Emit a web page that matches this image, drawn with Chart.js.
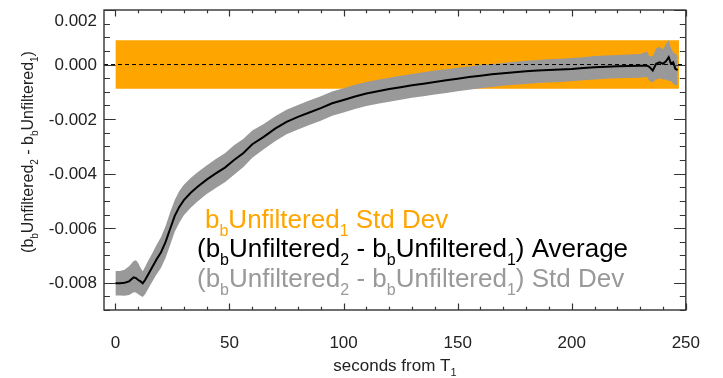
<!DOCTYPE html>
<html><head><meta charset="utf-8">
<script src="https://cdn.jsdelivr.net/npm/chart.js@4/dist/chart.umd.min.js"></script>
<style>html,body{margin:0;padding:0;background:#fff}canvas{display:block}</style>
</head><body>
<canvas id="c" width="723" height="378"></canvas>
<script>
// ---- data ----
const times = [0,2,4,6,8,9,10,11,12,13,14,16,18,20,22,24,26,28,30,33,36,40,44,48,52,56,60,
  65,70,75,80,85,90,95,100,105,110,115,120,125,130,135,140,145,150,155,160,165,170,175,180,185,190,195,200,205,210,215,220,225,230,
  233,234,235.5,237,238.5,240,241.3,242.5,243.5,244.5,245.4,246.4];
const avgDiff = [-0.00802,-0.00802,-0.00800,-0.00795,-0.00780,-0.00783,-0.00790,-0.00795,-0.00802,-0.00790,-0.00775,
  -0.00745,-0.00715,-0.00688,-0.00650,-0.00602,-0.00555,-0.00522,-0.00497,
  -0.00470,-0.00448,-0.00422,-0.00399,-0.00378,-0.00350,-0.00325,-0.00292,
  -0.00265,-0.00235,-0.00210,-0.00192,-0.00176,-0.00160,-0.00142,-0.00130,-0.00117,-0.00106,-0.00098,-0.00090,-0.00083,-0.00076,-0.00070,-0.00064,-0.00058,-0.00052,-0.00046,-0.00041,-0.00036,-0.00032,-0.00028,-0.00025,-0.00022,-0.00020,-0.00018,-0.00016,-0.00013,-0.00010,-0.00008,-0.00006,-0.00005,-0.00004,
  -0.00004,-0.00008,-0.00022,0.00003,0.00008,0.00003,0.00012,0.00027,0.00003,0.00008,-0.00016,-0.00020];
const stdUpper = [-0.00757,-0.00757,-0.00752,-0.00740,-0.00720,-0.00718,-0.00728,-0.00745,-0.00758,-0.00742,-0.00725,
  -0.00695,-0.00662,-0.00632,-0.00592,-0.00542,-0.00497,-0.00464,-0.00441,
  -0.00416,-0.00395,-0.00370,-0.00346,-0.00325,-0.00296,-0.00273,-0.00242,
  -0.00218,-0.00190,-0.00166,-0.00148,-0.00132,-0.00116,-0.00099,-0.00087,-0.00074,-0.00064,-0.00056,-0.00048,-0.00041,-0.00035,-0.00028,-0.00022,-0.00017,-0.00012,-0.00007,-0.00002,0.00002,0.00006,0.00010,0.00014,0.00017,0.00019,0.00021,0.00024,0.00027,0.00031,0.00033,0.00035,0.00037,0.00039,
  0.00048,0.00030,0.00030,0.00060,0.00065,0.00055,0.00075,0.00090,0.00060,0.00045,0.00040,0.00030];
const stdLower = [-0.00847,-0.00847,-0.00848,-0.00845,-0.00835,-0.00836,-0.00842,-0.00848,-0.00852,-0.00842,-0.00828,
  -0.00798,-0.00770,-0.00745,-0.00708,-0.00662,-0.00613,-0.00580,-0.00553,
  -0.00525,-0.00502,-0.00475,-0.00453,-0.00432,-0.00404,-0.00377,-0.00342,
  -0.00311,-0.00281,-0.00256,-0.00238,-0.00222,-0.00206,-0.00188,-0.00176,-0.00163,-0.00152,-0.00144,-0.00136,-0.00129,-0.00122,-0.00116,-0.00110,-0.00104,-0.00098,-0.00092,-0.00087,-0.00082,-0.00078,-0.00074,-0.00071,-0.00068,-0.00066,-0.00064,-0.00061,-0.00058,-0.00055,-0.00052,-0.00050,-0.00049,-0.00048,
  -0.00046,-0.00060,-0.00065,-0.00055,-0.00050,-0.00055,-0.00055,-0.00060,-0.00060,-0.00070,-0.00075,-0.00078];
const refStdTimes = [0, 247];
const refStd = 0.00089;
const xRange = [-5, 250];
const yRange = [-0.009, 0.002];
const xTicks = [0, 50, 100, 150, 200, 250];
const xTickLabels = ['0', '50', '100', '150', '200', '250'];
const yTicks = [-0.008, -0.006, -0.004, -0.002, 0, 0.002];
const yTickLabels = ['-0.008', '-0.006', '-0.004', '-0.002', '0.000', '0.002'];
const xMinorStep = 10, yMinorStep = 0.0005;

// ---- styling ----
const FONT = "'Liberation Sans', Arial, sans-serif";
const ORANGE = '#FFA500', GRAY = '#999999', INK = '#222222';
const pts = arr => times.map((t, i) => ({x: t, y: arr[i]}));
const NONE = 'rgba(0,0,0,0)';

function segWidth(ctx, segs, size) {
  let w = 0;
  for (const [t, sub] of segs) { ctx.font = (sub ? Math.round(size * 0.62) : size) + 'px ' + FONT; w += ctx.measureText(t).width; }
  return w;
}
function drawSegs(ctx, segs, x, y, size, color) {
  ctx.fillStyle = color; ctx.textAlign = 'left'; ctx.textBaseline = 'alphabetic';
  let cx = x;
  for (const [t, sub] of segs) {
    ctx.font = (sub ? Math.round(size * 0.62) : size) + 'px ' + FONT;
    ctx.fillText(t, cx, sub ? y + size * 0.3 : y);
    cx += ctx.measureText(t).width;
  }
}
const diffSegs = [['(b',0],['b',1],['Unfiltered',0],['2',1],[' - b',0],['b',1],['Unfiltered',0],['1',1],[')',0]];
const legendLines = [
  {segs: [['b',0],['b',1],['Unfiltered',0],['1',1],[' Std Dev',0]], color: ORANGE, x: 205, y: 228},
  {segs: diffSegs.concat([[' Average',0]]), color: '#000', x: 197, y: 257},
  {segs: diffSegs.concat([[' Std Dev',0]]), color: GRAY, x: 197, y: 287}
];

const framePlugin = {
  id: 'frame',
  afterDraw(chart) {
    const ctx = chart.ctx, a = chart.chartArea, xs = chart.scales.x, ys = chart.scales.y;
    ctx.save();
    ctx.strokeStyle = '#333'; ctx.lineWidth = 1.4;
    ctx.strokeRect(a.left, a.top, a.right - a.left, a.bottom - a.top);
    ctx.lineWidth = 1.2;
    ctx.beginPath();
    const ymaj = 11.7, ymin = 6, xmaj = 6.5, xmin = 3.3;
    for (let v = yRange[0]; v <= yRange[1] + 1e-9; v += yMinorStep) {
      const p = Math.round(ys.getPixelForValue(v)) + 0.5;
      const major = yTicks.some(t => Math.abs(t - v) < 1e-7);
      const L = major ? ymaj : ymin;
      ctx.moveTo(a.left, p); ctx.lineTo(a.left + L, p);
      ctx.moveTo(a.right, p); ctx.lineTo(a.right - L, p);
    }
    for (let v = 0; v <= xRange[1] + 1e-9; v += xMinorStep) {
      const p = Math.round(xs.getPixelForValue(v)) + 0.5;
      const major = xTicks.includes(v);
      const L = major ? xmaj : xmin;
      ctx.moveTo(p, a.bottom); ctx.lineTo(p, a.bottom - L);
      ctx.moveTo(p, a.top); ctx.lineTo(p, a.top + L);
    }
    ctx.stroke();
    // y tick labels
    ctx.fillStyle = INK; ctx.font = '17px ' + FONT; ctx.textAlign = 'right'; ctx.textBaseline = 'middle';
    yTicks.forEach((v, i) => {
      const p = Math.max(ys.getPixelForValue(v), a.top + 10);
      ctx.fillText(yTickLabels[i], a.left - 7, p + 1);
    });
    // x title
    const xt = [['seconds from T',0],['1',1]];
    const xw = segWidth(ctx, xt, 17);
    drawSegs(ctx, xt, (a.left + a.right) / 2 - xw / 2, 371, 17, INK);
    // y title
    const yw = segWidth(ctx, diffSegs, 16);
    ctx.save();
    ctx.translate(33, 152);
    ctx.rotate(-Math.PI / 2);
    drawSegs(ctx, diffSegs, -yw / 2, 0, 16, INK);
    ctx.restore();
    // in-plot legend
    for (const L of legendLines) drawSegs(ctx, L.segs, L.x, L.y, 26, L.color);
    ctx.restore();
  }
};

new Chart(document.getElementById('c'), {
  type: 'line',
  data: {
    datasets: [
      {data: pts(avgDiff), borderColor: '#000', borderWidth: 2, pointRadius: 0, fill: false, tension: 0},
      {data: [{x: xRange[0], y: 0}, {x: xRange[1], y: 0}], borderColor: '#000', borderWidth: 1, borderDash: [4, 3], pointRadius: 0, fill: false},
      {data: pts(stdUpper), borderColor: NONE, borderWidth: 0, pointRadius: 0, backgroundColor: GRAY, fill: '+1'},
      {data: pts(stdLower), borderColor: NONE, borderWidth: 0, pointRadius: 0, fill: false},
      {data: refStdTimes.map(t => ({x: t, y: refStd})), borderColor: NONE, borderWidth: 0, pointRadius: 0, backgroundColor: ORANGE, fill: '+1'},
      {data: refStdTimes.map(t => ({x: t, y: -refStd})), borderColor: NONE, borderWidth: 0, pointRadius: 0, fill: false}
    ]
  },
  options: {
    responsive: false, animation: false, devicePixelRatio: 1,
    layout: {padding: {top: 10, right: 33, bottom: 0, left: 0}},
    plugins: {legend: {display: false}, tooltip: {enabled: false}},
    scales: {
      x: {
        type: 'linear', min: xRange[0], max: xRange[1],
        grid: {display: false, drawTicks: false}, border: {display: false},
        afterBuildTicks: s => { s.ticks = xTicks.map(v => ({value: v})); },
        ticks: {color: INK, font: {family: FONT, size: 17}, padding: 23, maxRotation: 0, autoSkip: false,
          callback: v => xTickLabels[xTicks.indexOf(v)]},
        afterFit: s => { s.height = 68; }
      },
      y: {
        type: 'linear', min: yRange[0], max: yRange[1],
        grid: {display: false, drawTicks: false}, border: {display: false},
        afterBuildTicks: s => { s.ticks = yTicks.map(v => ({value: v})); },
        ticks: {display: false},
        afterFit: s => { s.width = 104; }
      }
    }
  },
  plugins: [framePlugin]
});
</script>
</body></html>
